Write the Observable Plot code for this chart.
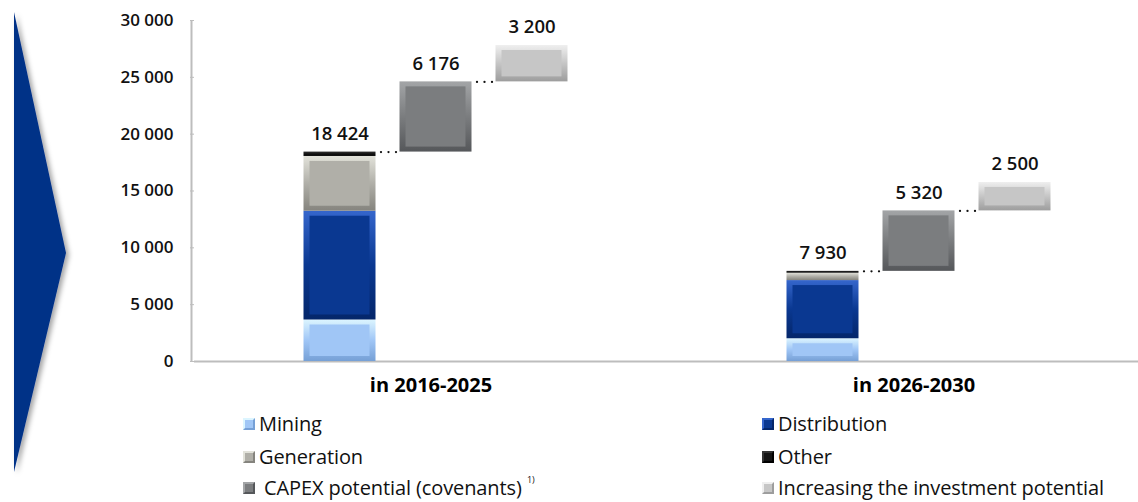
<!DOCTYPE html>
<html>
<head>
<meta charset="utf-8">
<script src="https://cdn.jsdelivr.net/npm/d3@7"></script>
<script src="https://cdn.jsdelivr.net/npm/@observablehq/plot@0.6"></script>
<style>
  body { margin: 0; background: #fff; font-family: "Open Sans", "Noto Sans", sans-serif; }
  #wrap { position: relative; width: 1138px; height: 502px; overflow: hidden; }
  #arrow { position: absolute; left: 0; top: 0; }
  #chart { position: absolute; left: 0; top: 0; }
  .leg { position: absolute; font-size: 20px; font-weight: 500; color: #111; white-space: nowrap; line-height: 1; letter-spacing: -0.1px; }
  .sw { position: absolute; width: 12px; height: 12px; box-sizing: border-box; }
  .lt { position: absolute; transform: translateY(-50%); }
  sup { font-size: 9px; position: relative; top: -4px; }
</style>
</head>
<body>
<div id="wrap">
  <svg id="arrow" width="120" height="502">
    <defs>
      <filter id="shadow" x="-30%" y="-10%" width="160%" height="120%">
        <feDropShadow dx="3" dy="2" stdDeviation="2.5" flood-color="#000" flood-opacity="0.35"/>
      </filter>
    </defs>
    <polygon points="14,12 66,253 14,472" fill="#003087" filter="url(#shadow)"/>
  </svg>
  <svg width="0" height="0" style="position:absolute">
    <defs id="grads"></defs>
  </svg>
  <div id="chart"></div>
  <div id="legend"></div>
</div>
<script>
// ---- data ----
const groups = ["in 2016-2025", "in 2026-2030"];
const columns = ["current", "capex", "increase"];
const series = ["Mining", "Distribution", "Generation", "Other", "CAPEX potential (covenants)", "Increasing the investment potential"];
const mining = [3650, 2000];
const distribution = [9570, 5120];
const generation = [4820, 650];
const other = [384, 160];
const totals = [18424, 7930];
const capex = [6176, 5320];
const increase = [3200, 2500];
const yTicks = [0, 5000, 10000, 15000, 20000, 25000, 30000];

// ---- styles ----
const palette = {
  "Mining": {top: "#dcf5ff", base: "#a0c6f6", bottom: "#76a0d6"},
  "Distribution": {top: "#3566cc", base: "#0a3891", bottom: "#04266a"},
  "Generation": {top: "#e2e2da", base: "#b0afa8", bottom: "#85847e"},
  "Other": {top: "#333", base: "#141414", bottom: "#000"},
  "CAPEX potential (covenants)": {top: "#a3a5a7", base: "#7b7d7f", bottom: "#55575a"},
  "Increasing the investment potential": {top: "#efefef", base: "#c6c6c6", bottom: "#9d9d9d"}
};
const gid = s => "g" + series.indexOf(s);
const defs = d3.select("#grads");
for (const s of series) {
  const p = palette[s];
  const g = defs.append("linearGradient").attr("id", gid(s)).attr("x1", 0).attr("x2", 0).attr("y1", 0).attr("y2", 1);
  g.append("stop").attr("offset", "0%").attr("stop-color", p.top);
  g.append("stop").attr("offset", "50%").attr("stop-color", p.base);
  g.append("stop").attr("offset", "100%").attr("stop-color", p.bottom);
}

// ---- build rows ----
const rows = [];
groups.forEach((g, i) => {
  let acc = 0;
  [["Mining", mining[i]], ["Distribution", distribution[i]], ["Generation", generation[i]], ["Other", other[i]]].forEach(([s, v]) => {
    rows.push({group: g, col: "current", series: s, y1: acc, y2: acc + v, v});
    acc += v;
  });
  rows.push({group: g, col: "capex", series: series[4], y1: totals[i], y2: totals[i] + capex[i], v: capex[i]});
  rows.push({group: g, col: "increase", series: series[5], y1: totals[i] + capex[i], y2: totals[i] + capex[i] + increase[i], v: increase[i]});
});
const labels = [];
const links = [];
groups.forEach((g, i) => {
  labels.push({group: g, col: "current", y: totals[i], text: totals[i]});
  labels.push({group: g, col: "capex", y: totals[i] + capex[i], text: capex[i]});
  labels.push({group: g, col: "increase", y: totals[i] + capex[i] + increase[i], text: increase[i]});
  links.push({group: g, from: "current", to: "capex", y: totals[i]});
  links.push({group: g, from: "capex", to: "increase", y: totals[i] + capex[i]});
});

const fmt = v => d3.format(",")(v).replace(/,/g, " ");
const FONT = "'Open Sans', 'Noto Sans', sans-serif";

const barMarks = [];
for (const s of series) {
  const data = rows.filter(r => r.series === s);
  barMarks.push(Plot.barY(data, {x: "col", fx: "group", y1: "y1", y2: "y2", fill: `url(#${gid(s)})`}));
  if (s !== "Other") {
    barMarks.push(Plot.barY(data.filter(d => d.v > 900), {x: "col", fx: "group", y1: "y1", y2: "y2", fill: palette[s].base, insetTop: 5, insetBottom: 5, insetLeft: 6, insetRight: 6}));
  }
}

const plot = Plot.plot({
  width: 1138,
  height: 400,
  marginLeft: 193.5,
  marginRight: -21.5,
  marginTop: 20,
  marginBottom: 39,
  style: {fontFamily: FONT, background: "transparent", overflow: "visible"},
  fx: {domain: groups, paddingInner: 0, paddingOuter: 0, label: null},
  x: {domain: columns, paddingInner: 0.25, paddingOuter: 1.13, axis: null},
  y: {domain: [0, 30000], label: null},
  marks: [
    Plot.ruleY([0], {stroke: "#bdbdbd", strokeWidth: 2}),
    ...barMarks,
    // dotted connectors: from bar centre to next bar centre, three dots only in the gap
    Plot.link(links, {fx: "group", x1: "from", x2: "to", y1: "y", y2: "y", stroke: "#111", strokeWidth: 2.3, strokeDasharray: "0 7.5 0 7.5 0 300", strokeDashoffset: -41, strokeLinecap: "round"}),
    Plot.text(labels, {fx: "group", x: "col", y: "y", text: d => fmt(d.text), dy: -18, fontSize: 18.5, fill: "#111", fontWeight: 600}),
    Plot.axisY({ticks: yTicks, tickFormat: fmt, tickSize: 4, tickPadding: 17, fontSize: 17, fontWeight: 600, stroke: "#bdbdbd", fill: "#111", label: null}),
    Plot.axisFx({anchor: "bottom", tickSize: 0, tickPadding: 16, fontSize: 20, fontWeight: "bold", fill: "#000", label: null, dx: -5})
  ]
});
document.getElementById("chart").appendChild(plot);

// y axis line
const ys = plot.scale("y");
d3.select(plot).insert("line", ":first-child")
  .attr("x1", 191.5).attr("x2", 191.5)
  .attr("y1", ys.apply(30000)).attr("y2", ys.apply(0))
  .attr("stroke", "#bdbdbd").attr("stroke-width", 2);

// ---- legend ----
const legendItems = [
  {s: "Mining", col: 0, row: 0},
  {s: "Distribution", col: 1, row: 0},
  {s: "Generation", col: 0, row: 1},
  {s: "Other", col: 1, row: 1},
  {s: "CAPEX potential (covenants)", col: 0, row: 2, sup: "1)", extra: 5},
  {s: "Increasing the investment potential", col: 1, row: 2}
];
const legendX = [243, 762];
const legendY = [424, 457, 488];
const leg = d3.select("#legend");
for (const it of legendItems) {
  const p = palette[it.s];
  const x = legendX[it.col], y = legendY[it.row];
  leg.append("div").attr("class", "sw")
    .style("left", x + "px").style("top", (y - 6) + "px")
    .style("background", p.base)
    .style("border-top", `2px solid ${p.top}`)
    .style("border-bottom", `2px solid ${p.bottom}`)
    .style("border-left", `2px solid ${p.top}`)
    .style("border-right", `2px solid ${p.bottom}`);
  const t = leg.append("div").attr("class", "leg lt")
    .style("left", (x + 16 + (it.extra || 0)) + "px").style("top", y + "px");
  t.append("span").text(it.s + (it.sup ? " " : ""));
  if (it.sup) t.append("sup").text(it.sup);
}
</script>
</body>
</html>
